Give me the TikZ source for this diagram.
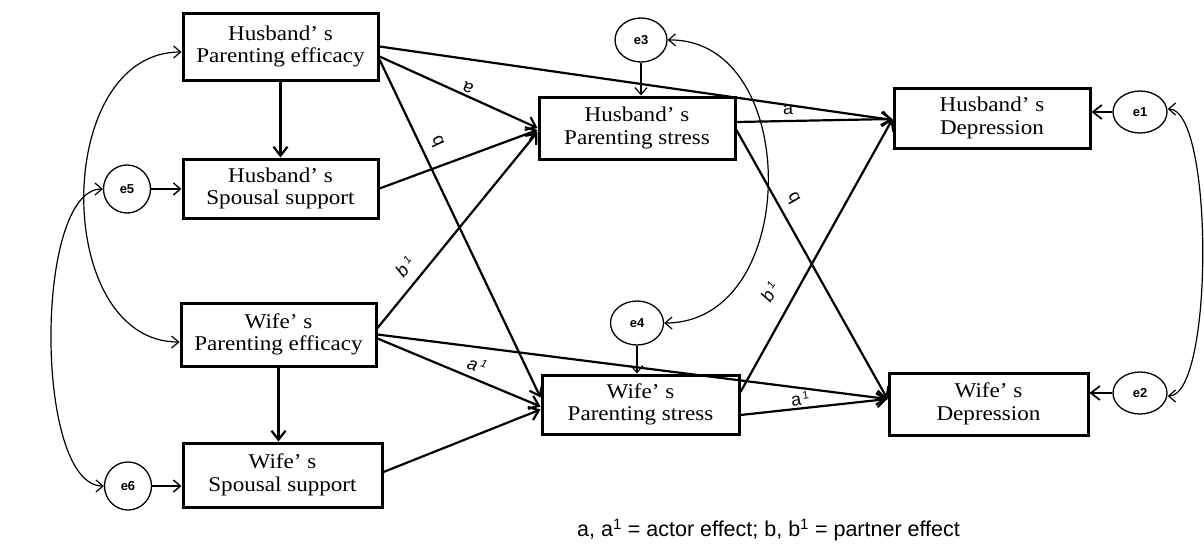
\documentclass[tikz,border=0pt]{standalone}
\usepackage{fontspec}
\setmainfont{Liberation Serif}[FakeStretch=1.1]
\newfontfamily\labfont{Liberation Sans}
\usetikzlibrary{arrows.meta,shapes.geometric,calc}
\newcommand{\supone}{\raisebox{0.6ex}{\fontsize{11}{11}\selectfont 1}}
\begin{document}
\begin{tikzpicture}[x=1pt,y=-1pt,
  box/.style={draw,line width=3pt,inner sep=0pt,align=center,font=\fontsize{21}{22.5}\selectfont},
  err/.style={draw,ellipse,line width=1.3pt,inner sep=0pt,font=\labfont\bfseries\fontsize{13}{13}\selectfont},
  pth/.style={line width=2.2pt,-{Straight Barb[length=9pt,width=14pt]}},
  thinarr/.style={line width=1.2pt,-{Straight Barb[length=7pt,width=12pt]}},
  cov/.style={line width=1.2pt,{Straight Barb[length=7pt,width=12pt]}-{Straight Barb[length=7pt,width=12pt]}},
  lab/.style={font=\labfont\fontsize{18}{18}\selectfont,inner sep=0pt},
]
\useasboundingbox (0,0) rectangle (1204,549);

% boxes
\node[box,minimum width=195pt,minimum height=67pt] (HPE) at (280.5,46.5) {Husband’ s\\Parenting efficacy};
\node[box,minimum width=195pt,minimum height=59pt] (HSS) at (280.5,188.5) {Husband’ s\\Spousal support};
\node[box,minimum width=195pt,minimum height=63pt] (WPE) at (278.5,334.5) {Wife’ s\\Parenting efficacy};
\node[box,minimum width=199pt,minimum height=64pt] (WSS) at (282.5,475) {Wife’ s\\Spousal support};
\node[box,minimum width=196pt,minimum height=62pt] (HPS) at (637,128) {Husband’ s\\Parenting stress};
\node[box,minimum width=197pt,minimum height=59pt] (WPS) at (640.5,404.5) {Wife’ s\\Parenting stress};
\node[box,minimum width=196pt,minimum height=60pt] (HD) at (992,118) {Husband’ s\\Depression};
\node[box,minimum width=199pt,minimum height=62pt] (WD) at (988.5,404) {Wife’ s\\Depression};

% error terms
\node[err,minimum width=47pt,minimum height=48pt] (e5) at (127,189) {e5};
\node[err,minimum width=47pt,minimum height=48pt] (e6) at (128,486) {e6};
\node[err,minimum width=52pt,minimum height=44pt] (e3) at (641,40) {e3};
\node[err,minimum width=53pt,minimum height=44pt] (e4) at (637,323) {e4};
\node[err,minimum width=54pt,minimum height=42pt] (e1) at (1140,112) {e1};
\node[err,minimum width=54pt,minimum height=42pt] (e2) at (1140,393) {e2};

% structural paths
\draw[pth] (HPE.south) -- (HSS.north);
\draw[pth] (WPE.south) -- (WPE.south |- WSS.north);
\draw[pth] (HPE.east) -- ([yshift=-2pt]HD.west);
\draw[pth] ([yshift=-10pt]HPE.east) -- (HPS.west);
\draw[pth] ([yshift=-13pt]HPE.east) -- ([yshift=7pt]WPS.west);
\draw[pth] (HSS.east) -- ([yshift=-2pt]HPS.west);
\draw[pth] ([yshift=6.5pt]WPE.east) -- ([yshift=-4pt]HPS.west);
\draw[pth] (WPE.east) -- ([yshift=5pt]WD.west);
\draw[pth] ([yshift=-4pt]WPE.east) -- ([yshift=-2pt]WPS.west);
\draw[pth] ([yshift=3pt]WSS.east) -- ([yshift=-5pt]WPS.west);
\draw[pth] ([yshift=6pt]HPS.east) -- ([yshift=-1pt]HD.west);
\draw[pth] ([yshift=-2pt]HPS.east) -- ([yshift=5pt]WD.west);
\draw[pth] ([yshift=12.5pt]WPS.east) -- ([yshift=-1pt]HD.west);
\draw[pth] ([yshift=-10.5pt]WPS.east) -- ([yshift=5pt]WD.west);

% error arrows
\draw[thinarr] (e3.south) -- (e3.south |- HPS.north);
\draw[thinarr] (e4.south) -- (e4.south |- WPS.north);
\draw[pth,line width=1.7pt] (e1.west) -- (e1.west -| HD.east);
\draw[pth,line width=1.7pt] (e2.west) -- (e2.west -| WD.east);
\draw[thinarr,line width=1.4pt] (e5.east) -- (e5.east -| HSS.west);
\draw[thinarr,line width=1.4pt] (e6.east) -- (e6.east -| WSS.west);

% covariances
\draw[cov] ([yshift=-5.5pt]HPE.west) .. controls (52,52) and (52,342) .. ([yshift=-7.5pt]WPE.west);
\draw[cov] (e5.west) .. controls (34,189) and (34,486) .. (e6.west);
\draw[cov] (e3.east) .. controls (802,38) and (802,323) .. (e4.east);
\draw[cov] ([yshift=3pt]e1.east) .. controls (1214,109) and (1214,396) .. ([yshift=-3pt]e2.east);

% path labels
\node[lab,rotate=156] (la1) at (468,88) {a};
\node[lab,rotate=115] (lb1) at (437,142) {b};
\node[lab,rotate=50] (lb2) at (405,267) {\itshape b\kern4pt\supone};
\node[lab,rotate=-18] (la2) at (477,365) {\itshape a\kern2.5pt\supone};
\node[lab] (la3) at (788,110) {a};
\node[lab,rotate=120] (lb3) at (793,198) {b};
\node[lab,rotate=60] (lb4) at (770,292) {\itshape b\kern4pt\supone};
\node[lab,rotate=9] (la4) at (800,399) {a\kern2pt\supone};

% legend
\node[font=\labfont\fontsize{21.5}{23}\selectfont,anchor=west,inner sep=0pt] (legend) at (577,530) {a, a\textsuperscript{1} = actor effect; b, b\textsuperscript{1} = partner effect};
\end{tikzpicture}
\end{document}
